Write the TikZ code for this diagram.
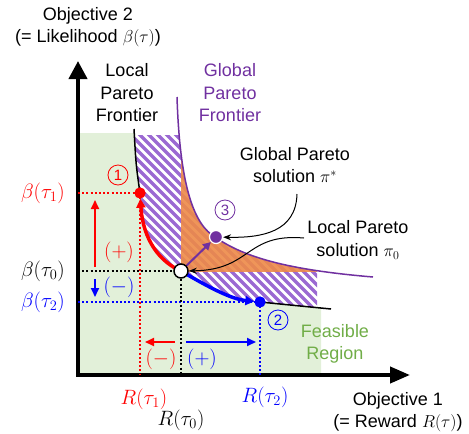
\documentclass[tikz,border=0pt]{standalone}
\usepackage{fontspec}
\setmainfont{Liberation Sans}
\usetikzlibrary{arrows.meta}
\definecolor{myred}{RGB}{255,0,0}
\definecolor{myblue}{RGB}{0,0,255}
\definecolor{mypurple}{RGB}{112,48,160}
\definecolor{stripecol}{RGB}{155,105,210}
\definecolor{feas}{RGB}{226,240,217}
\definecolor{feastext}{RGB}{112,173,71}
\definecolor{orangefill}{RGB}{238,138,72}
\begin{document}
\begin{tikzpicture}[x=1pt,y=-1pt,
  font=\fontsize{18}{22.5}\selectfont,
  lbl/.style={inner sep=0pt, align=center},
  mlbl/.style={inner sep=0pt, font=\fontsize{21}{24}\selectfont},
  dotline/.style={line width=2pt, dash pattern=on 2pt off 2.2pt},
  circnum/.style={circle, inner sep=0pt, minimum size=20pt, line width=0.8pt, font=\fontsize{15}{15}\selectfont},
  pt/.style={circle, inner sep=0pt, minimum size=11pt},
  bigarrow/.style={line width=2pt, -{Triangle[length=9pt,width=8pt]}},
  callout/.style={line width=1pt, -{Stealth[length=8pt,width=6pt]}}
]
\useasboundingbox (0,0) rectangle (469,434);

% feasible region (below local frontier)
\begin{scope}
  \clip (78,133) rectangle (321,375);
  \fill[feas] (60,100) -- (134,100) -- (134,129) .. controls (136,165) .. (140,193)
    .. controls (143,240) and (160,262) .. (181,271)
    .. controls (205,285) and (230,299) .. (260,302)
    .. controls (290,305) .. (331,309) -- (420,309) -- (420,400) -- (60,400) -- cycle;
\end{scope}

% hatched region between frontiers, orange dominating region
\begin{scope}
  \clip (110,135) rectangle (317,330);
  \clip (134,90) -- (134,129) .. controls (136,165) .. (140,193)
    .. controls (143,240) and (160,262) .. (181,271)
    .. controls (205,285) and (230,299) .. (260,302)
    .. controls (290,305) .. (331,309) -- (420,309) -- (420,90) -- cycle;
  \clip (177,90) -- (177,97) .. controls (180,190) and (195,225) .. (215,237)
    .. controls (245,258) and (290,270) .. (373,277) -- (373,420) -- (60,420) -- (60,90) -- cycle;
  \fill[white] (110,135) rectangle (317,330);
  \foreach \i in {-120,-111,...,300} \draw[stripecol, line width=3.4pt] (\i,100) -- ++(320,320);
  \fill[orangefill, opacity=0.9] (181,100) rectangle (317,272);
\end{scope}

% frontiers
\draw[mypurple, line width=1.5pt] (177,97) .. controls (180,190) and (195,225) .. (215,237)
    .. controls (245,258) and (290,270) .. (373,277);
\draw[black, line width=1.5pt] (134,129) .. controls (136,165) .. (140,193);
\draw[black, line width=1.5pt] (260,302) .. controls (290,305) .. (331,309);

% axes
\draw[line width=4pt, {Triangle[length=18pt,width=18pt]}-{Triangle[length=20pt,width=16pt]}] (78,61) -- (78,375) -- (410,375);

% points
\node[pt, fill=myred] (p1) at (140,193) {};
\node[pt, fill=myblue] (p2) at (260,302) {};

% axis coordinates
\coordinate (y1) at (78,193);
\coordinate (y0) at (78,271);
\coordinate (y2) at (78,302);
\coordinate (x1) at (140,375);
\coordinate (x0) at (181,375);
\coordinate (x2) at (260,375);

% dotted guide lines
\draw[dotline, myred] (y1) -- (p1.center);
\draw[dotline, myred] (p1.center) -- (x1);
\draw[dotline, myblue] (y2) -- (p2.center);
\draw[dotline, myblue] (p2.center) -- (x2);
\draw[dotline, black] (y0) -- (181,271);
\draw[dotline, black] (181,271) -- (x0);

\node[pt, fill=myred] at (p1) {};
\node[pt, fill=myblue] at (p2) {};
\node[circle, inner sep=0pt, minimum size=13pt, fill=mypurple, draw=white, line width=1.2pt] (p3) at (216,237) {};

% moves along local frontier
\draw[myred, line width=3.5pt, -{Triangle[length=9pt,width=9pt]}] (181,271) .. controls (160,262) and (143,240) .. (p1);
\draw[myblue, line width=3.5pt, -{Triangle[length=9pt,width=9pt]}] (181,271) .. controls (205,285) and (230,299) .. (p2);
\draw[mypurple, line width=2pt, -{Triangle[length=8pt,width=8pt]}] (181,271) -- (p3);
\node[circle, inner sep=0pt, minimum size=14pt, fill=white, draw=black, line width=1.5pt] (p0) at (181,271) {};

% direction arrows
\coordinate (ua) at (95,267); \coordinate (ub) at (95,200);
\coordinate (da) at (95,279); \coordinate (db) at (95,297);
\coordinate (la) at (175,342); \coordinate (lb) at (145,342);
\coordinate (ra) at (186,342); \coordinate (rb) at (256,342);
\draw[bigarrow, myred] (ua) -- (ub);
\draw[bigarrow, myblue] (da) -- (db);
\draw[bigarrow, myred] (la) -- (lb);
\draw[bigarrow, myblue] (ra) -- (rb);
\node[mlbl, text=myred] (lp1) at (119,252) {$(+)$};
\node[mlbl, text=myblue] (lm2) at (119,287) {$(-)$};
\node[mlbl, text=myred] (lm1) at (161,359) {$(-)$};
\node[mlbl, text=myblue] (lp2) at (202,359) {$(+)$};

% circled numbers
\node[circnum, draw=myred, text=myred] (n1) at (118,175) {1};
\node[circnum, draw=myblue, text=myblue] (n2) at (278,320) {2};
\node[circnum, draw=mypurple, text=mypurple] (n3) at (225,210) {3};

% axis tick labels
\node[mlbl, anchor=east, text=myred] (b1) at (65,193) {$\beta(\tau_1)$};
\node[mlbl, anchor=east] (b0) at (65,271) {$\beta(\tau_0)$};
\node[mlbl, anchor=east, text=myblue] (b2) at (65,302) {$\beta(\tau_2)$};
\node[mlbl, text=myred] (r1) at (144,399) {$R(\tau_1)$};
\node[mlbl] (r0) at (181,420) {$R(\tau_0)$};
\node[mlbl, text=myblue] (r2) at (265,397) {$R(\tau_2)$};

% titles
\node[lbl] (oy) at (88,27) {Objective 2\\(= Likelihood $\beta(\tau)$)};
\node[lbl] (ox) at (398,412) {Objective 1\\(= Reward $R(\tau)$)};
\node[lbl] (lpf) at (127,93) {Local\\Pareto\\Frontier};
\node[lbl, text=mypurple] (gpf) at (230,93) {Global\\Pareto\\Frontier};
\node[lbl, text=feastext] (fr) at (335,344) {Feasible\\Region};
\node[lbl] (gps) at (295,165) {Global Pareto\\solution $\pi^*$};
\node[lbl] (lps) at (358,240) {Local Pareto\\solution $\pi_0$};

% callouts
\coordinate (c1) at (297,194);
\coordinate (c2) at (304,238);
\draw[callout] (c1) .. controls (296,232) and (262,238) .. (p3);
\draw[callout] (c2) .. controls (245,233) and (252,270) .. (p0);
\end{tikzpicture}
\end{document}
